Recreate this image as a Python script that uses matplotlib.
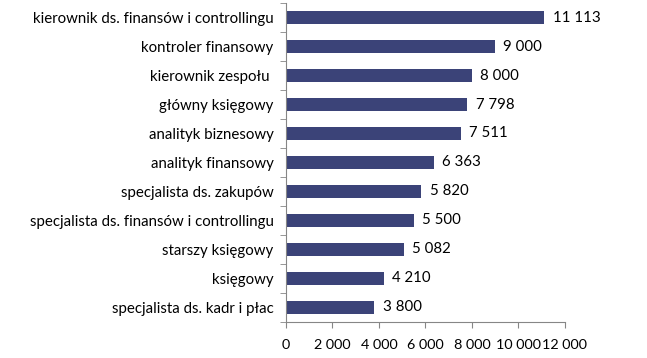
import matplotlib.pyplot as plt
import numpy as np

# dane (od góry do dołu)
stanowiska = [
    'kierownik ds. finansów i controllingu',
    'kontroler finansowy',
    'kierownik zespołu ',
    'główny księgowy',
    'analityk biznesowy',
    'analityk finansowy',
    'specjalista ds. zakupów',
    'specjalista ds. finansów i controllingu',
    'starszy księgowy',
    'księgowy',
    'specjalista ds. kadr i płac',
]
wynagrodzenia = [11113, 9000, 8000, 7798, 7511, 6363, 5820, 5500, 5082, 4210, 3800]
x_ticki = [0, 2000, 4000, 6000, 8000, 10000, 12000]

KOLOR = '#3b4378'
SZARY = '#868686'
FS = 10.8

plt.rcParams['font.family'] = ['Lato', 'DejaVu Sans']

def fmt(v):
    return f'{v:,}'.replace(',', ' ')

fig = plt.figure(figsize=(6.47, 3.58), dpi=100)
ax = fig.add_axes([0.442, 0.1006, 0.431, 0.891])

n = len(stanowiska)
pos = np.arange(n)[::-1]
ax.barh(pos, wynagrodzenia, height=0.42, color=KOLOR)

for p, v in zip(pos, wynagrodzenia):
    ax.annotate(fmt(v), (v, p), xytext=(6, 0), textcoords='offset points',
                va='center', ha='left', fontsize=FS)

ax.set_xlim(0, 12000)
ax.set_ylim(-0.5, n - 0.5)
ax.set_xticks(x_ticki)
ax.set_xticklabels([fmt(t) for t in x_ticki], fontsize=10.4)
ax.set_yticks(pos)
ax.set_yticklabels(stanowiska, fontsize=FS)
ax.set_yticks(np.arange(n + 1) - 0.5, minor=True)

ax.tick_params(axis='y', which='major', length=0, pad=9)
ax.tick_params(axis='y', which='minor', length=4, color=SZARY, direction='out')
ax.tick_params(axis='x', length=4, color=SZARY, direction='out', pad=8)

for s in ['top', 'right']:
    ax.spines[s].set_visible(False)
for s in ['left', 'bottom']:
    ax.spines[s].set_color(SZARY)

fig.savefig('out.png', dpi=100)
